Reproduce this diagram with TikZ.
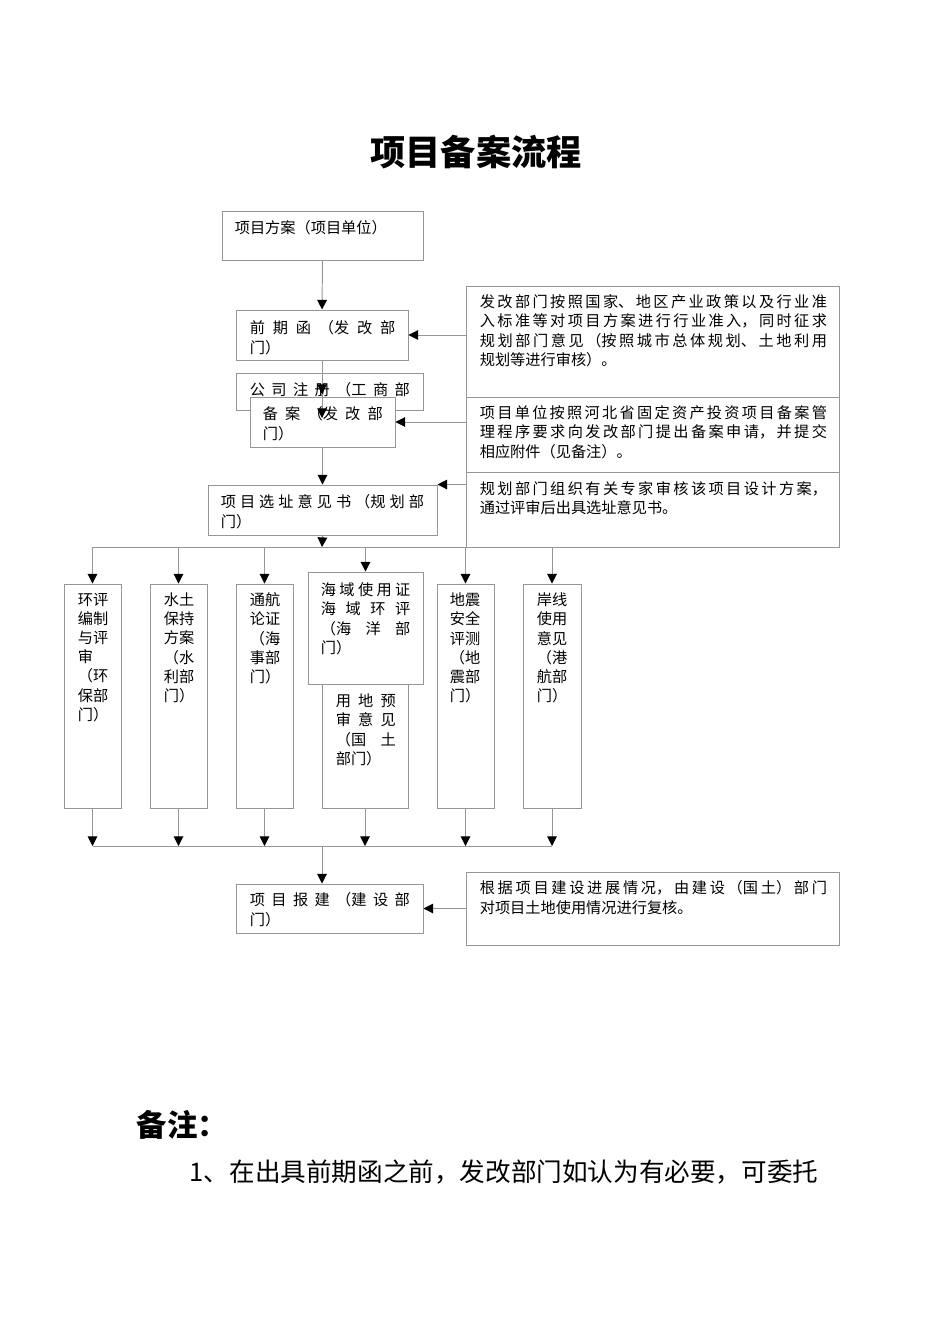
\documentclass[tikz,border=0pt]{standalone}
\usepackage{fontspec}
\setmainfont{Noto Sans CJK SC}
\usetikzlibrary{arrows.meta,fit}
\XeTeXlinebreaklocale "zh"
\XeTeXlinebreakskip=0pt plus 8pt
\tolerance=9999
\hbadness=10000
\definecolor{linegray}{RGB}{150,150,150}
\tikzset{
  box/.style={draw=linegray, fill=white, line width=0.6pt, inner sep=0pt},
  txt/.style={anchor=north west, inner sep=0pt, font=\fontsize{9.5pt}{12pt}\selectfont},
  jtxt/.style={txt, align=justify, text width=#1},
  col/.style={txt, align=left},
  ln/.style={draw=linegray, line width=0.6pt},
  arr/.style={ln, -{Triangle[length=6pt,width=6pt,color=black]}}
}

\begin{document}
\begin{tikzpicture}[x=0.625pt,y=-0.625pt]
  \useasboundingbox (0,0) rectangle (950,1344);

  \node[font=\fontsize{22pt}{26pt}\selectfont\bfseries] (title) at (476,152) {项目备案流程};

  \node[box, fit={(222,211) (423,260)}] (fangan) {};
  \node[txt] (fangantxt) at ([shift={(13,10)}]fangan.north west) {项目方案（项目单位）};
  \node[box, fit={(236,310) (408,360)}] (qianqi) {};
  \node[jtxt=91pt] (qianqitxt) at ([shift={(14,11)}]qianqi.north west) {前期函（发改部\linebreak 门）};
  \node[box, fit={(236,373) (423,410)}] (zhuce) {};
  \node[jtxt=100pt] (zhucetxt) at ([shift={(14,10)}]zhuce.north west) {公司注册（工商部\linebreak\null};
  \node[box, fit={(250,397) (395,447)}] (beian) {};
  \node[jtxt=75pt] (beiantxt) at ([shift={(13,10)}]beian.north west) {备案（发改部\linebreak 门）};
  \node[box, fit={(208,485) (437,535)}] (xuanzhi) {};
  \node[jtxt=127pt] (xuanzhitxt) at ([shift={(13,10)}]xuanzhi.north west) {项目选址意见书（规划部\linebreak 门）};

  \node[box, fit={(466,286) (839,397)}] (faA) {};
  \node[jtxt=217pt] (faAtxt) at ([shift={(14,9)}]faA.north west) {发改部门按照国家、地区产业政策以及行业准\linebreak 入标准等对项目方案进行行业准入，同时征求\linebreak 规划部门意见（按照城市总体规划、土地利用\linebreak 规划等进行审核）。};
  \node[box, fit={(466,397) (839,472)}] (faB) {};
  \node[jtxt=217pt] (faBtxt) at ([shift={(14,9)}]faB.north west) {项目单位按照河北省固定资产投资项目备案管\linebreak 理程序要求向发改部门提出备案申请，并提交\linebreak 相应附件（见备注）。};
  \node[box, fit={(466,472) (839,547)}] (faC) {};
  \node[jtxt=217pt] (faCtxt) at ([shift={(14,10)}]faC.north west) {规划部门组织有关专家审核该项目设计方案，\linebreak 通过评审后出具选址意见书。};

  \node[box, fit={(64,584) (121,808)}] (chai) {};
  \node[col] (chaitxt) at ([shift={(14,9)}]chai.north west) {环评\\编制\\与评\\审\\（环\\保部\\门）};
  \node[box, fit={(150,584) (207,808)}] (shuitu) {};
  \node[col] (shuitutxt) at ([shift={(14,9)}]shuitu.north west) {水土\\保持\\方案\\（水\\利部\\门）};
  \node[box, fit={(236,584) (293,808)}] (tonghang) {};
  \node[col] (tonghangtxt) at ([shift={(14,9)}]tonghang.north west) {通航\\论证\\（海\\事部\\门）};
  \node[box, fit={(308,572) (423,684)}] (haiyu) {};
  \node[jtxt=56pt] (haiyutxt) at ([shift={(13,11)}]haiyu.north west) {海域使用证\linebreak 海域环评\linebreak （海洋部\linebreak 门）};
  \node[box, fit={(322,684) (408,808)}] (yongdi) {};
  \node[jtxt=37.5pt] (yongditxt) at ([shift={(14,10)}]yongdi.north west) {用地预\linebreak 审意见\linebreak （国土\linebreak 部门）};
  \node[box, fit={(437,584) (494,808)}] (dizhen) {};
  \node[col] (dizhentxt) at ([shift={(13,9)}]dizhen.north west) {地震\\安全\\评测\\（地\\震部\\门）};
  \node[box, fit={(523,584) (581,808)}] (anxian) {};
  \node[col] (anxiantxt) at ([shift={(14,9)}]anxian.north west) {岸线\\使用\\意见\\（港\\航部\\门）};

  \node[box, fit={(236,884) (423,933)}] (baojian) {};
  \node[jtxt=100pt] (baojiantxt) at ([shift={(14,9)}]baojian.north west) {项目报建（建设部\linebreak 门）};
  \node[box, fit={(466,872) (839,945)}] (faD) {};
  \node[jtxt=217pt] (faDtxt) at ([shift={(14,9)}]faD.north west) {根据项目建设进展情况，由建设（国土）部门\linebreak 对项目土地使用情况进行复核。};

  \coordinate (zhong1) at (322,394);
  \coordinate (zhong2) at (322,418);
  \coordinate (fen) at (322,547);
  \coordinate (hui) at (322,846);

  \draw[arr] (fangan.south) -- (qianqi.north);
  \draw[arr] (faA.west |- qianqi.east) -- (qianqi.east);
  \draw[arr] (qianqi.south) -- (zhong1);
  \draw[arr] (zhong1) -- (zhong2);
  \draw[arr] (faB.west |- beian.east) -- (beian.east);
  \draw[arr] (beian.south) -- (xuanzhi.north);
  \draw[arr] (faC.west |- xuanzhi.north east) -- (xuanzhi.north east);
  \draw[arr] (xuanzhi.south) -- (fen);
  \draw[ln] (chai.north |- fen) -- (anxian.north |- fen);
  \foreach \n in {chai,shuitu,tonghang,haiyu,dizhen,anxian}
    \draw[arr] (\n.north |- fen) -- (\n.north);
  \foreach \n in {chai,shuitu,tonghang,yongdi,dizhen,anxian}
    \draw[arr] (\n.south) -- (\n.south |- hui);
  \draw[ln] (chai.south |- hui) -- (anxian.south |- hui);
  \draw[arr] (hui) -- (hui |- baojian.north);
  \draw[arr] (faD.west |- baojian.east) -- (baojian.east);

  \node[anchor=west, font=\fontsize{19pt}{22pt}\selectfont\bfseries] (beizhu) at (131,1125) {备注：};
  \node[anchor=west, font=\fontsize{16pt}{20pt}\selectfont] (tiao1) at (184,1172) {1、在出具前期函之前，发改部门如认为有必要，可委托};
\end{tikzpicture}
\end{document}
